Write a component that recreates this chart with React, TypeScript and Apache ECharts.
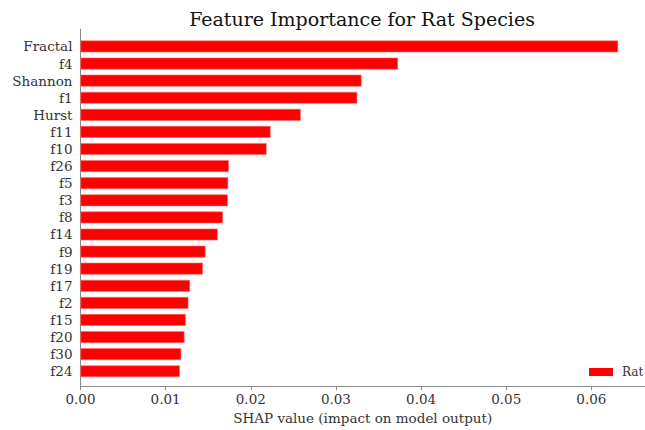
import React, { useEffect, useRef } from "react";
import * as echarts from "echarts";

// Mean |SHAP| per feature, most important first
const features = [
  "Fractal", "f4", "Shannon", "f1", "Hurst", "f11", "f10", "f26", "f5", "f3",
  "f8", "f14", "f9", "f19", "f17", "f2", "f15", "f20", "f30", "f24",
];
const ratValues = [
  0.06314, 0.03729, 0.03301, 0.0325, 0.02587, 0.02232, 0.02185, 0.01742, 0.01734, 0.0173,
  0.01672, 0.01611, 0.01468, 0.01437, 0.01287, 0.01267, 0.01236, 0.01221, 0.01183, 0.01167,
];
const xTicks = [0, 0.01, 0.02, 0.03, 0.04, 0.05, 0.06];
const xMax = 0.0663;

const SERIF = "DejaVu Serif";
const TEXT = "#333333";
const SPINE = "#8a8a8a";

export default function App() {
  const ref = useRef<HTMLDivElement>(null);

  useEffect(() => {
    if (!ref.current) return;
    const chart = echarts.init(ref.current, null, { renderer: "svg" });
    chart.setOption({
      animation: false,
      backgroundColor: "#ffffff",
      title: {
        text: "Feature Importance for Rat Species",
        left: 357,
        textAlign: "center",
        top: 4,
        textStyle: { fontFamily: SERIF, fontSize: 19, fontWeight: "normal", color: "#111" },
      },
      legend: {
        data: ["Rat"],
        left: 584,
        top: 361,
        itemWidth: 24,
        itemHeight: 8,
        icon: "rect",
        itemStyle: { borderWidth: 0 },
        textStyle: { fontFamily: SERIF, fontSize: 12, color: TEXT, padding: [0, 0, 0, 4] },
      },
      grid: [
        // frame: spines, x ticks and axis title
        { left: 80.5, right: -8, top: 29.3, bottom: 41.7 },
        // bar rows
        { left: 80.5, right: -8, top: 37.9, height: 341.9 },
      ],
      xAxis: [
        {
          gridIndex: 0,
          type: "value",
          min: 0,
          max: xMax,
          interval: xTicks[1] - xTicks[0],
          axisLine: { show: true, lineStyle: { color: SPINE, width: 1 } },
          axisTick: { show: true, length: 4, lineStyle: { color: SPINE } },
          splitLine: { show: false },
          axisLabel: {
            showMaxLabel: false,
            margin: 6,
            fontFamily: SERIF,
            fontSize: 13.5,
            color: TEXT,
            formatter: (v: number) => v.toFixed(2),
          },
          name: "SHAP value (impact on model output)",
          nameLocation: "middle",
          nameGap: 24,
          nameTextStyle: { fontFamily: SERIF, fontSize: 13.5, color: TEXT },
        },
        {
          gridIndex: 1,
          type: "value",
          min: 0,
          max: xMax,
          show: false,
        },
      ],
      yAxis: [
        {
          gridIndex: 0,
          type: "value",
          min: 0,
          max: 1,
          axisLine: { show: true, lineStyle: { color: SPINE, width: 1 } },
          axisTick: { show: false },
          axisLabel: { show: false },
          splitLine: { show: false },
        },
        {
          gridIndex: 1,
          type: "category",
          data: features,
          inverse: true,
          axisLine: { show: false },
          axisTick: { show: false },
          splitLine: { show: false },
          axisLabel: {
            interval: 0,
            margin: 8,
            fontFamily: SERIF,
            fontSize: 13.5,
            color: TEXT,
          },
        },
      ],
      series: [
        {
          name: "Rat",
          type: "bar",
          xAxisIndex: 1,
          yAxisIndex: 1,
          data: ratValues,
          barWidth: "69%",
          itemStyle: { color: "#ff0000", borderColor: "#ff6a6a", borderWidth: 0.6 },
        },
      ],
    });
    return () => chart.dispose();
  }, []);

  return (
    <div
      ref={ref}
      style={{ position: "fixed", left: 0, top: 0, width: 645, height: 430, background: "#fff" }}
    />
  );
}
